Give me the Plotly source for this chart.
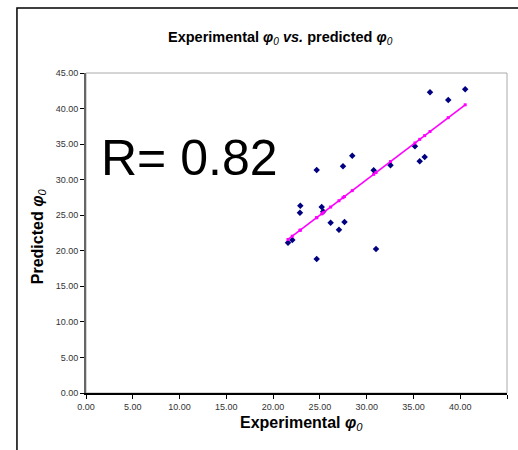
import plotly.graph_objects as go

# Data
experimental = [21.59, 22.05, 22.91, 22.87, 24.66, 24.66, 25.19, 25.36, 26.15, 27.04, 27.47,
                27.63, 28.46, 30.75, 31.00, 32.55, 35.16, 35.67, 36.20, 36.77, 38.72, 40.53]
predicted = [21.13, 21.51, 26.34, 25.35, 31.37, 18.83, 26.15, 25.54, 23.94, 22.96, 31.87,
             24.04, 33.38, 31.31, 20.24, 32.04, 34.69, 32.58, 33.20, 42.30, 41.20, 42.72]
# ideal line (predicted = experimental) drawn at each experimental value
ideal_x = sorted(experimental)
ideal_y = sorted(experimental)
tick_vals = [0, 5, 10, 15, 20, 25, 30, 35, 40, 45]
tick_text = ["0.00", "5.00", "10.00", "15.00", "20.00", "25.00", "30.00", "35.00", "40.00", "45.00"]
r_text = "R= 0.82"

FONT = "Arial, Liberation Sans, sans-serif"
PHI = "<b><i>φ</i></b><i><sub>0</sub></i>"

fig = go.Figure()
fig.add_trace(go.Scatter(x=experimental, y=predicted, mode="markers",
                         marker=dict(symbol="diamond", size=5, color="#000080"),
                         showlegend=False, cliponaxis=False))
fig.add_trace(go.Scatter(x=ideal_x, y=ideal_y, mode="lines+markers",
                         line=dict(color="#FF00FF", width=1.6),
                         marker=dict(symbol="square", size=3, color="#FF00FF"),
                         showlegend=False))

axis_common = dict(range=[0, 45], tickvals=tick_vals, ticktext=tick_text,
                   showgrid=False, zeroline=False, ticks="outside", ticklen=4,
                   automargin=False,
                   tickfont=dict(family=FONT, size=9, color="#333333"))

fig.update_xaxes(**axis_common, showline=True, linecolor="#000000", linewidth=1.5,
                 tickcolor="#000000")
fig.update_yaxes(**axis_common, showline=True, linecolor="#666666", linewidth=2,
                 tickcolor="#000000")

shapes = [
    # plot-area border (light gray)
    dict(type="rect", xref="paper", yref="paper", x0=0, y0=0, x1=1, y1=1,
         line=dict(color="#AAAAAA", width=1), layer="below"),
    # outer chart frame
    dict(type="rect", xref="paper", yref="paper", x0=-0.164, y0=-0.3, x1=1.1, y1=1.203,
         line=dict(color="#000000", width=1.5), layer="below"),
]

annotations = [
    dict(text="<b>Experimental </b>" + PHI + "<b><i> vs.</i> predicted </b>" + PHI,
         xref="paper", yref="paper", x=0.461, y=1.109, showarrow=False,
         xanchor="center", yanchor="middle",
         font=dict(family=FONT, size=14.5, color="#000000")),
    dict(text="<b>Experimental </b>" + PHI, xref="paper", yref="paper",
         x=0.511, y=-0.094, showarrow=False, xanchor="center", yanchor="middle",
         font=dict(family=FONT, size=16, color="#000000")),
    dict(text="<b>Predicted </b>" + PHI, xref="paper", yref="paper",
         x=-0.114, y=0.49, showarrow=False, textangle=-90,
         xanchor="center", yanchor="middle",
         font=dict(family=FONT, size=16, color="#000000")),
    dict(text=r_text, xref="paper", yref="paper", x=0.247, y=0.735, showarrow=False,
         xanchor="center", yanchor="middle",
         font=dict(family=FONT, size=50, color="#000000")),
]

fig.update_layout(width=518, height=450, margin=dict(l=86, r=11, t=73, b=57, autoexpand=False),
                  plot_bgcolor="#FFFFFF", paper_bgcolor="#FFFFFF",
                  shapes=shapes, annotations=annotations, showlegend=False)

# remove the page's default body margin so the figure sits at the window's top-left corner
fig.write_html("out.html", config={"displayModeBar": False},
               post_script="document.body.style.margin='0';document.body.style.overflow='hidden';")
